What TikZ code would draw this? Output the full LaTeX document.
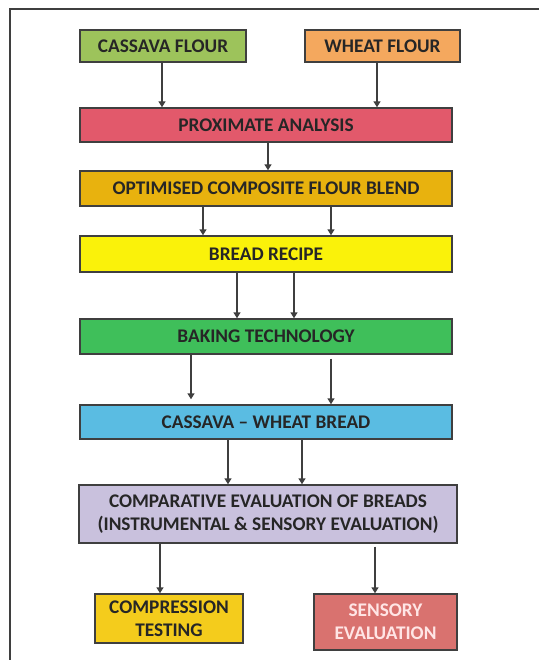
\documentclass[tikz,border=0pt]{standalone}
\usepackage{fontspec}
\setmainfont{Carlito}
\usetikzlibrary{arrows.meta,positioning,calc}
\usepackage{xcolor}

\definecolor{cassavacol}{HTML}{9DC35B}
\definecolor{wheatcol}{HTML}{F4A85E}
\definecolor{proxcol}{HTML}{E2596B}
\definecolor{optcol}{HTML}{E8B20E}
\definecolor{breadcol}{HTML}{FAF20A}
\definecolor{bakecol}{HTML}{3FBF5A}
\definecolor{cwcol}{HTML}{5ABCE2}
\definecolor{compcol}{HTML}{C9C1DD}
\definecolor{presscol}{HTML}{F4CC1C}
\definecolor{sensecol}{HTML}{D9726F}
\definecolor{edgecol}{HTML}{3F3F3F}

\begin{document}
\begin{tikzpicture}[x=1pt,y=-1pt,
    box/.style={draw=edgecol,line width=1.4pt,rectangle,align=center,
        inner sep=0pt,text=black!85,
        font=\fontsize{19.3}{23}\selectfont\bfseries},
    arr/.style={draw=edgecol,line width=1.4pt,-{Triangle[width=7pt,length=6pt]}}]

    \useasboundingbox (0,0) rectangle (539,660);
    \draw [edgecol,line width=1.8pt] (10,660) -- (10,9) -- (539,9);

    \node [box,fill=cassavacol,minimum width=166pt,minimum height=32pt] (cassava) at (163,46) {CASSAVA FLOUR};
    \node [box,fill=wheatcol,minimum width=155pt,minimum height=32pt] (wheat) at (382.5,46) {WHEAT FLOUR};
    \node [box,fill=proxcol,minimum width=372pt,minimum height=34pt] (prox) at (266,125) {PROXIMATE ANALYSIS};
    \node [box,fill=optcol,minimum width=372pt,minimum height=35pt] (blend) at (266,188.5) {OPTIMISED COMPOSITE FLOUR BLEND};
    \node [box,fill=breadcol,minimum width=372pt,minimum height=36pt] (recipe) at (266,254) {BREAD RECIPE};
    \node [box,fill=bakecol,minimum width=372pt,minimum height=35pt] (baking) at (266,336.5) {BAKING TECHNOLOGY};
    \node [box,fill=cwcol,minimum width=372pt,minimum height=34pt] (cwbread) at (266,422) {CASSAVA -- WHEAT BREAD};
    \node [box,fill=compcol,minimum width=378pt,minimum height=58pt] (compare) at (268,514) {COMPARATIVE EVALUATION OF BREADS\\(INSTRUMENTAL \& SENSORY EVALUATION)};
    \node [box,fill=presscol,minimum width=148pt,minimum height=49pt] (press) at (169,618.5) {COMPRESSION\\TESTING};
    \node [box,fill=sensecol,text=red!10,minimum width=143pt,minimum height=56pt] (sensory) at (385.5,622) {SENSORY\\EVALUATION};

    \draw [arr] ([xshift=-1pt]cassava.south) -- ([xshift=-1pt]cassava.south |- prox.north);
    \draw [arr] ([xshift=-5.5pt]wheat.south) -- ([xshift=-5.5pt]wheat.south |- prox.north);
    \draw [arr] ([xshift=2pt]prox.south) -- ([xshift=2pt]prox.south |- blend.north);

    \draw [arr] ([xshift=-63pt]blend.south) -- ([xshift=-63pt]blend.south |- recipe.north);
    \draw [arr] ([xshift=65pt]blend.south) -- ([xshift=65pt]blend.south |- recipe.north);

    \draw [arr] ([xshift=-29pt]recipe.south) -- ([xshift=-29pt]recipe.south |- baking.north);
    \draw [arr] ([xshift=28pt]recipe.south) -- ([xshift=28pt]recipe.south |- baking.north);

    \draw [arr] ([xshift=-75pt]baking.south) -- ([xshift=-75pt,yshift=5pt]baking.south |- cwbread.north);
    \draw [arr] ([xshift=65pt,yshift=-4pt]baking.south) -- ([xshift=65pt]baking.south |- cwbread.north);

    \draw [arr] ([xshift=-38pt]cwbread.south) -- ([xshift=-38pt]cwbread.south |- compare.north);
    \draw [arr] ([xshift=36pt]cwbread.south) -- ([xshift=36pt]cwbread.south |- compare.north);

    \draw [arr] ([xshift=-9pt]press.north |- compare.south) -- ([xshift=-9pt]press.north);
    \draw [arr] ([xshift=-10.5pt,yshift=-3pt]sensory.north |- compare.south) -- ([xshift=-10.5pt]sensory.north);
\end{tikzpicture}
\end{document}
